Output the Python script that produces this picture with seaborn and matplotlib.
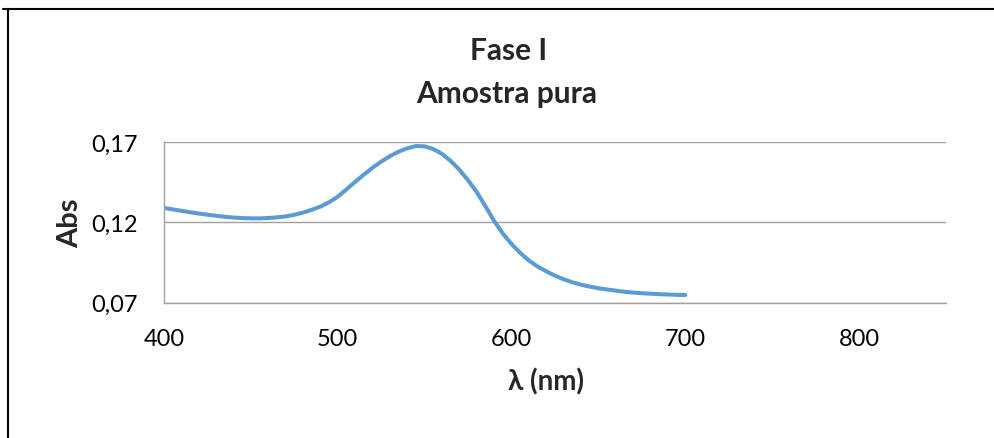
import matplotlib
matplotlib.use("Agg")
import matplotlib.pyplot as plt
from matplotlib.lines import Line2D
from matplotlib.ticker import FuncFormatter, FixedLocator
import pandas as pd
import seaborn as sns

# Absorption spectrum, wavelength in nm
wavelength = list(range(400, 701, 5))
absorbance = [0.1290, 0.1281, 0.1272, 0.1263, 0.1255, 0.1248, 0.1241, 0.1235, 0.1230, 0.1227,
              0.1225, 0.1225, 0.1227, 0.1231, 0.1237, 0.1247, 0.1261, 0.1278, 0.1298, 0.1325,
              0.1360, 0.1405, 0.1452, 0.1497, 0.1540, 0.1578, 0.1612, 0.1640, 0.1661, 0.1675,
              0.1673, 0.1656, 0.1626, 0.1582, 0.1527, 0.1462, 0.1388, 0.1300, 0.1208, 0.1130,
              0.1065, 0.1010, 0.0962, 0.0925, 0.0895, 0.0868, 0.0846, 0.0827, 0.0812, 0.0800,
              0.0790, 0.0782, 0.0775, 0.0768, 0.0763, 0.0759, 0.0756, 0.0753, 0.0751, 0.0749,
              0.0748]

x_ticks = [400, 500, 600, 700, 800]
y_ticks = [0.07, 0.12, 0.17]

df = pd.DataFrame({"wavelength": wavelength, "absorbance": absorbance})

sns.set_style("white")
plt.rcParams["font.family"] = ["Lato", "DejaVu Sans"]

fig = plt.figure(figsize=(9.95, 4.39), dpi=100)
ax = fig.add_axes([0.1648, 0.3082, 0.786, 0.3660])

sns.lineplot(data=df, x="wavelength", y="absorbance", ax=ax,
             color="#5B9BD5", linewidth=2.9)
for ln in ax.lines:
    ln.set_solid_joinstyle("round")
    ln.set_solid_capstyle("round")

ax.set_xlim(400, 850)
ax.set_ylim(0.07, 0.17)
ax.xaxis.set_major_locator(FixedLocator(x_ticks))
ax.yaxis.set_major_locator(FixedLocator(y_ticks))
ax.yaxis.set_major_formatter(FuncFormatter(lambda v, p: f"{v:.2f}".replace(".", ",")))
ax.tick_params(axis="both", length=0, labelsize=17, colors="black")
ax.tick_params(axis="x", pad=18)
ax.tick_params(axis="y", pad=19)

ax.grid(axis="y", color="#A0A0A0", linewidth=1.0)
ax.grid(axis="x", visible=False)
for side in ("top", "right"):
    ax.spines[side].set_visible(False)
for side in ("left", "bottom"):
    ax.spines[side].set_color("#A0A0A0")
    ax.spines[side].set_linewidth(1.0)

ax.set_xlabel("λ (nm)", fontsize=20, fontweight="bold")
ax.set_ylabel("Abs", fontsize=21, fontweight="bold", labelpad=6)
ax.xaxis.set_label_coords(0.488, -0.40)

fig.text(0.511, 1 - 51 / 439, "Fase I", ha="center", va="center",
         fontsize=21.5, fontweight="bold")
fig.text(0.509, 1 - 94 / 439, "Amostra pura", ha="center", va="center",
         fontsize=21.5, fontweight="bold")

# Frame edges along the top and left of the figure
fig.add_artist(Line2D([3 / 995, 1.0], [1 - 10 / 439, 1 - 10 / 439],
                      transform=fig.transFigure, color="black", linewidth=1.5))
fig.add_artist(Line2D([8 / 995, 8 / 995], [0.0, 1 - 10 / 439],
                      transform=fig.transFigure, color="black", linewidth=1.5))

fig.savefig("out.png", dpi=100, facecolor="white")
